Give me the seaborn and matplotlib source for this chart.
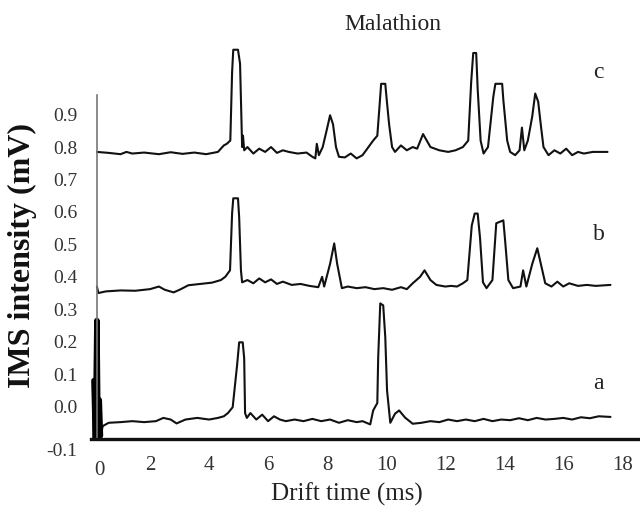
import pandas as pd
import seaborn as sns
import matplotlib.pyplot as plt
from matplotlib.transforms import ScaledTranslation

# drift time (ms) / intensity (mV)
t_a = [0.1, 0.15, 0.2, 0.24, 0.28, 0.32, 0.4, 0.6, 1.0, 1.4,
       1.8, 2.2, 2.45, 2.7, 2.9, 3.2, 3.6, 4.0, 4.3, 4.5,
       4.64, 4.8, 4.95, 5.02, 5.14, 5.19, 5.22, 5.28, 5.4, 5.6,
       5.8, 6.0, 6.2, 6.4, 6.6, 6.9, 7.2, 7.5, 7.8, 8.1,
       8.4, 8.7, 9.0, 9.2, 9.46, 9.56, 9.7, 9.73, 9.8, 9.9,
       9.97, 10.03, 10.14, 10.3, 10.44, 10.64, 10.9, 11.2, 11.5, 11.8,
       12.1, 12.4, 12.7, 13.0, 13.3, 13.6, 13.9, 14.2, 14.5, 14.8,
       15.1, 15.4, 15.7, 16.0, 16.3, 16.6, 16.9, 17.2, 17.6]
v_a = [0.08, -0.1, 0.265, -0.1, 0.02, -0.09, -0.06, -0.05, -0.048, -0.045,
       -0.048, -0.045, -0.035, -0.04, -0.052, -0.04, -0.035, -0.04, -0.035, -0.03,
       -0.02, -0.002, 0.128, 0.198, 0.198, 0.149, -0.02, -0.035, -0.02, -0.04,
       -0.025, -0.045, -0.03, -0.04, -0.045, -0.04, -0.045, -0.038, -0.045, -0.04,
       -0.05, -0.042, -0.048, -0.045, -0.055, -0.012, 0.011, 0.152, 0.318, 0.312,
       0.214, 0.05, -0.05, -0.022, -0.012, -0.034, -0.053, -0.05, -0.045, -0.048,
       -0.04, -0.045, -0.04, -0.045, -0.038, -0.045, -0.04, -0.042, -0.036, -0.042,
       -0.035, -0.04, -0.038, -0.035, -0.04, -0.033, -0.036, -0.03, -0.032]

t_b = [0.2, 0.25, 0.5, 1.0, 1.5, 2.0, 2.3, 2.5, 2.8, 3.0,
       3.3, 3.7, 4.1, 4.4, 4.55, 4.71, 4.78, 4.82, 4.98, 5.02,
       5.08, 5.12, 5.3, 5.5, 5.7, 5.9, 6.1, 6.3, 6.5, 6.8,
       7.1, 7.4, 7.7, 7.83, 7.9, 8.1, 8.24, 8.34, 8.5, 8.7,
       9.0, 9.3, 9.6, 9.9, 10.2, 10.5, 10.7, 10.9, 11.15, 11.3,
       11.5, 11.7, 12.0, 12.2, 12.4, 12.6, 12.75, 12.9, 13.0, 13.1,
       13.18, 13.28, 13.4, 13.6, 13.73, 13.97, 14.03, 14.14, 14.3, 14.55,
       14.64, 14.75, 14.95, 15.12, 15.29, 15.39, 15.6, 15.8, 16.0, 16.2,
       16.5, 16.8, 17.1, 17.6]
v_b = [0.37, 0.35, 0.355, 0.358, 0.357, 0.362, 0.37, 0.36, 0.352, 0.36,
       0.374, 0.378, 0.382, 0.39, 0.40, 0.42, 0.595, 0.642, 0.642, 0.583,
       0.42, 0.383, 0.39, 0.38, 0.395, 0.383, 0.392, 0.378, 0.385, 0.375,
       0.378, 0.372, 0.368, 0.40, 0.37, 0.44, 0.503, 0.44, 0.365, 0.37,
       0.365, 0.368, 0.362, 0.365, 0.36, 0.368, 0.362, 0.38, 0.40, 0.42,
       0.39, 0.375, 0.37, 0.372, 0.37, 0.38, 0.39, 0.558, 0.595, 0.595,
       0.52, 0.383, 0.365, 0.39, 0.565, 0.574, 0.512, 0.39, 0.365, 0.37,
       0.42, 0.37, 0.44, 0.488, 0.42, 0.38, 0.37, 0.385, 0.37, 0.38,
       0.372, 0.375, 0.372, 0.375]

t_c = [0.2, 0.6, 1.0, 1.2, 1.4, 1.8, 2.3, 2.7, 3.1, 3.5,
       3.9, 4.3, 4.5, 4.6, 4.72, 4.78, 4.82, 4.98, 5.05, 5.12,
       5.15, 5.19, 5.3, 5.5, 5.7, 5.9, 6.1, 6.3, 6.5, 6.7,
       7.0, 7.3, 7.5, 7.6, 7.65, 7.72, 7.85, 7.98, 8.1, 8.2,
       8.3, 8.4, 8.6, 8.8, 9.0, 9.2, 9.4, 9.56, 9.7, 9.77,
       9.83, 9.97, 10.02, 10.1, 10.2, 10.3, 10.5, 10.7, 10.9, 11.05,
       11.25, 11.5, 11.8, 12.1, 12.35, 12.6, 12.78, 12.88, 12.95, 13.05,
       13.1, 13.2, 13.3, 13.45, 13.63, 13.7, 13.93, 13.97, 14.1, 14.2,
       14.37, 14.52, 14.6, 14.68, 14.8, 14.95, 15.05, 15.15, 15.25, 15.33,
       15.5, 15.7, 15.9, 16.1, 16.3, 16.5, 16.7, 17.0, 17.5]
v_c = [0.785, 0.782, 0.778, 0.785, 0.78, 0.783, 0.778, 0.784, 0.779, 0.783,
       0.778, 0.785, 0.805, 0.81, 0.82, 1.03, 1.10, 1.10, 1.057, 0.80,
       0.835, 0.79, 0.80, 0.78, 0.795, 0.785, 0.80, 0.782, 0.79, 0.785,
       0.78, 0.783, 0.77, 0.765, 0.81, 0.775, 0.80, 0.85, 0.898, 0.87,
       0.80, 0.77, 0.768, 0.78, 0.765, 0.775, 0.80, 0.82, 0.835, 0.92,
       0.995, 0.995, 0.945, 0.87, 0.80, 0.785, 0.805, 0.79, 0.80, 0.795,
       0.84, 0.80, 0.79, 0.785, 0.79, 0.80, 0.82, 1.00, 1.09, 1.09,
       0.98, 0.82, 0.78, 0.80, 0.955, 0.995, 0.995, 0.945, 0.82, 0.785,
       0.775, 0.79, 0.86, 0.79, 0.82, 0.895, 0.965, 0.94, 0.86, 0.80,
       0.775, 0.79, 0.78, 0.795, 0.775, 0.785, 0.78, 0.785, 0.785]

trace_names = ['a', 'b', 'c']
label_pos = [(17.2, 0.07), (17.2, 0.53), (17.2, 1.03)]
x_ticks = [0, 2, 4, 6, 8, 10, 12, 14, 16, 18]
y_ticks = [-0.1, 0.0, 0.1, 0.2, 0.3, 0.4, 0.5, 0.6, 0.7, 0.8, 0.9]
n_spike = 6  # first points of trace a = the injection spike at t~0

def main():
    sns.set_theme(style='white')
    plt.rcParams['font.family'] = ['Liberation Serif', 'DejaVu Serif']

    fig = plt.figure(figsize=(6.4, 5.13), dpi=100)
    ax = fig.add_axes([91 / 640, 74 / 513, 549 / 640, 399 / 513])

    for name, t, v in zip(trace_names, [t_a, t_b, t_c], [v_a, v_b, v_c]):
        df = pd.DataFrame({'t': t, 'v': v})
        sns.lineplot(data=df, x='t', y='v', ax=ax, color='#111111', lw=1.5,
                     sort=False, estimator=None)

    # the thick black injection spike of trace a
    spike = pd.DataFrame({'t': t_a[:n_spike], 'v': v_a[:n_spike]})
    sns.lineplot(data=spike, x='t', y='v', ax=ax, color='black', lw=4,
                 sort=False, estimator=None)

    for name, (tx, ty) in zip(trace_names, label_pos):
        ax.text(tx, ty, name, fontsize=17, ha='center', va='center', color='#222222')

    ax.set_xlim(0, 18.6)
    ax.set_ylim(-0.1, 1.13)
    ax.set_xticks(x_ticks, [str(x) for x in x_ticks])
    ax.set_yticks(y_ticks, [f'{y:.1f}' for y in y_ticks])
    ax.tick_params(axis='both', length=0, colors='#333333')
    ax.tick_params(axis='x', labelsize=15, pad=12)
    ax.tick_params(axis='y', labelsize=14, pad=14)

    for s in ['top', 'right']:
        ax.spines[s].set_visible(False)
    ax.spines['bottom'].set_color('#111111')
    ax.spines['bottom'].set_linewidth(2.4)
    ax.spines['left'].set_color('#777777')
    ax.spines['left'].set_linewidth(1.2)
    ax.spines['left'].set_position(('data', 0.2))
    ax.spines['left'].set_bounds(-0.1, 0.96)

    # nudge a couple of tick labels like in the original
    fig.canvas.draw()
    xl = ax.get_xticklabels()[0]
    xl.set_transform(xl.get_transform() + ScaledTranslation(8 / 100, -5 / 100, fig.dpi_scale_trans))
    yl = ax.get_yticklabels()[0]
    yl.set_transform(yl.get_transform() + ScaledTranslation(0, -10 / 100, fig.dpi_scale_trans))

    ax.set_xlabel('Drift time (ms)', fontsize=18, color='#222222')
    ax.xaxis.set_label_coords(0.466, -0.11)
    ax.set_ylabel('IMS intensity (mV)', fontsize=23, fontweight='bold', color='#111111')
    ax.yaxis.set_label_coords(-0.098, 0.46)
    fig.text(393 / 640, 1 - 25 / 513, 'Malathion', fontsize=17, ha='center', va='center',
             color='#222222')

    fig.savefig('out.png', dpi=100)

if __name__ == '__main__':
    main()
